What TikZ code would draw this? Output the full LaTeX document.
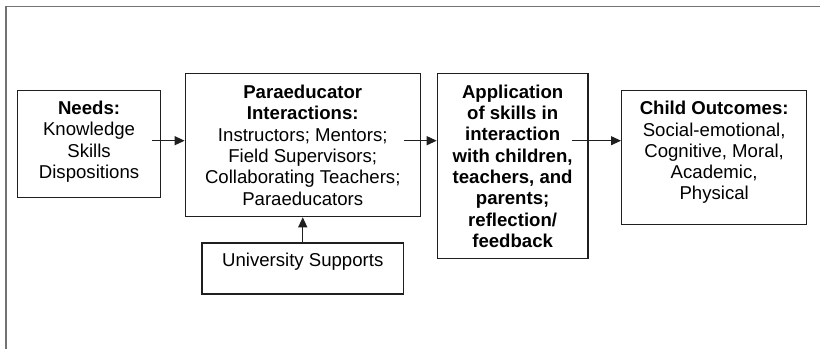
\documentclass[tikz,border=0pt]{standalone}
\usepackage{fontspec}
\setmainfont{Liberation Sans}
\usepackage{tikz}
\usetikzlibrary{arrows.meta, positioning, calc}
\definecolor{framegray}{rgb}{0.45, 0.45, 0.45}
\definecolor{ink}{rgb}{0.12, 0.12, 0.12}

\begin{document}
\begin{tikzpicture}[
        x=0.5pt, y=-0.5pt,
        every node/.style={font=\fontsize{9.3}{10.65}\selectfont},
        box/.style={draw=ink, line width=0.65pt, align=center, inner sep=2pt, anchor=north west},
        arrowstyle/.style={-{Triangle[length=5pt, width=4.5pt]}, line width=0.55pt, ink}
    ]
        \useasboundingbox (0,0) rectangle (820,349);
        % outer frame (only top and left edges show)
        \draw[framegray, line width=0.8pt] (5.8,349) -- (5.8,6.5) -- (820,6.5);

        \node[box, minimum width=71.7pt, minimum height=53.5pt, text depth=4.5pt] (needs) at (16.7,90) {
            \textbf{Needs:}\\
            Knowledge\\
            Skills\\
            Dispositions
        };
        \node[box, minimum width=117.5pt, minimum height=71.5pt] (para) at (184.6,73) {
            \textbf{Paraeducator}\\
            \textbf{Interactions:}\\
            Instructors; Mentors;\\
            Field Supervisors;\\
            Collaborating Teachers;\\
            Paraeducators
        };
        \node[box, minimum width=75.3pt, minimum height=92.5pt] (app) at (436.7,73) {
            \textbf{Application}\\
            \textbf{of skills in}\\
            \textbf{interaction}\\
            \textbf{with children,}\\
            \textbf{teachers, and}\\
            \textbf{parents;}\\
            \textbf{reflection/}\\
            \textbf{feedback}
        };
        \node[box, minimum width=92.5pt, minimum height=67pt, text depth=7pt] (child) at (621,90) {
            \textbf{Child Outcomes:}\\
            Social-emotional,\\
            Cognitive, Moral,\\
            Academic,\\
            Physical
        };
        \node[box, anchor=north, minimum width=100.8pt, minimum height=25.5pt, text depth=8.5pt, below=12.5pt of para] (univ) {University Supports};

        \coordinate (flow) at (0,140.7);
        \draw[arrowstyle] ($(needs.east |- flow)+(-4.7pt,0)$) -- (para.west |- flow);
        \draw[arrowstyle] ($(para.east |- flow)+(-8.4pt,0)$) -- (app.west |- flow);
        \draw[arrowstyle] ($(app.east |- flow)+(-8.2pt,0)$) -- (child.west |- flow);
        \draw[arrowstyle] (univ.north) -- (para.south);
    \end{tikzpicture}
\end{document}
